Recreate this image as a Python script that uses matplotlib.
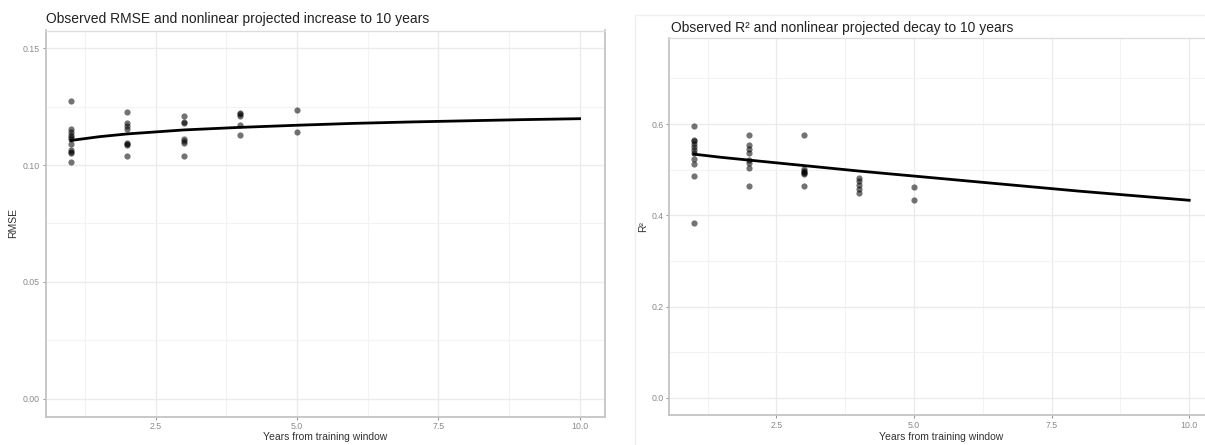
import matplotlib
matplotlib.use("Agg")
import matplotlib.pyplot as plt
from matplotlib.lines import Line2D
from matplotlib.ticker import FixedLocator

plt.rcParams['font.family'] = ['Liberation Sans', 'DejaVu Sans']

# Observed RMSE by years from training window
rmse_x = [1] * 11 + [2] * 8 + [3] * 7 + [4] * 5 + [5] * 2
rmse_y = [0.1275, 0.1152, 0.1140, 0.1130, 0.1120, 0.1110, 0.1090, 0.1066, 0.1055, 0.1050, 0.1012,
          0.1225, 0.1178, 0.1165, 0.1152, 0.1093, 0.1090, 0.1086, 0.1040,
          0.1208, 0.1186, 0.1180, 0.1112, 0.1102, 0.1094, 0.1040,
          0.1224, 0.1216, 0.1210, 0.1172, 0.1128,
          0.1235, 0.1143]

# Observed R² by years from training window
r2_x = [1] * 11 + [2] * 8 + [3] * 7 + [4] * 5 + [5] * 2
r2_y = [0.596, 0.566, 0.562, 0.556, 0.549, 0.543, 0.536, 0.523, 0.512, 0.486, 0.383,
        0.577, 0.554, 0.545, 0.536, 0.521, 0.514, 0.504, 0.465,
        0.576, 0.502, 0.497, 0.494, 0.492, 0.491, 0.465,
        0.482, 0.475, 0.466, 0.458, 0.449,
        0.463, 0.434]

# Nonlinear projections out to 10 years
proj_years = [1, 1.5, 2, 3, 4, 5, 6, 7, 8, 9, 10]
rmse_proj = [0.1105, 0.1121, 0.1133, 0.1150, 0.1161, 0.1170, 0.1178, 0.1184, 0.1189, 0.1194, 0.1198]
r2_proj = [0.534, 0.527, 0.521, 0.509, 0.497, 0.486, 0.475, 0.464, 0.453, 0.443, 0.433]

x_ticks = [2.5, 5.0, 7.5, 10.0]
x_tick_labels = ["2.5", "5.0", "7.5", "10.0"]
rmse_ticks = [0.00, 0.05, 0.10, 0.15]
rmse_tick_labels = ["0.00", "0.05", "0.10", "0.15"]
r2_ticks = [0.0, 0.2, 0.4, 0.6]
r2_tick_labels = ["0.0", "0.2", "0.4", "0.6"]

W, H = 1205, 445
fig = plt.figure(figsize=(W / 100, H / 100), dpi=100)
fig.patch.set_facecolor('white')

# faint frame edges around the right-hand plot
fig.add_artist(Line2D([635 / W, 635 / W, 1.0], [0.0, 1 - 15 / H, 1 - 15 / H],
                      transform=fig.transFigure, color='#efefef', linewidth=1.0))


def px_axes(x0, x1, top, bottom):
    return fig.add_axes([x0 / W, (H - bottom) / H, (x1 - x0) / W, (bottom - top) / H])


def style(ax, yticks, ylabels, yminor, ylim):
    ax.set_xlim(0.55, 10.45)
    ax.set_ylim(*ylim)
    ax.xaxis.set_major_locator(FixedLocator(x_ticks))
    ax.set_xticklabels(x_tick_labels)
    ax.xaxis.set_minor_locator(FixedLocator([1.25, 3.75, 6.25, 8.75]))
    ax.yaxis.set_major_locator(FixedLocator(yticks))
    ax.set_yticklabels(ylabels)
    ax.yaxis.set_minor_locator(FixedLocator(yminor))
    ax.grid(which='major', color='#ebebeb', linewidth=1.0)
    ax.grid(which='minor', color='#f3f3f3', linewidth=0.8)
    ax.set_axisbelow(True)
    ax.tick_params(which='major', length=2.5, width=0.8, color='#999999',
                   labelsize=6.3, labelcolor='#8a8a8a', pad=1.5)
    ax.tick_params(which='minor', length=0)
    for side in ['left', 'bottom', 'right']:
        ax.spines[side].set_color('#c4c4c4')
        ax.spines[side].set_linewidth(1.3)
    ax.spines['top'].set_color('#dedede')
    ax.spines['top'].set_linewidth(1.0)


ax1 = px_axes(45.5, 605, 30.5, 416.5)
style(ax1, rmse_ticks, rmse_tick_labels, [0.025, 0.075, 0.125], (-0.0075, 0.1575))
ax1.scatter(rmse_x, rmse_y, s=20, color='black', alpha=0.55, linewidths=0, zorder=3)
ax1.plot(proj_years, rmse_proj, color='black', linewidth=2.0, zorder=4)

ax2 = px_axes(669, 1214, 38.4, 415.1)
style(ax2, r2_ticks, r2_tick_labels, [0.1, 0.3, 0.5, 0.7], (-0.0375, 0.7875))
ax2.scatter(r2_x, r2_y, s=20, color='black', alpha=0.55, linewidths=0, zorder=3)
ax2.plot(proj_years, r2_proj, color='black', linewidth=2.0, zorder=4)

# titles and axis titles
fig.text(46 / W, 1 - 19 / H, "Observed RMSE and nonlinear projected increase to 10 years",
         fontsize=10, color='#222222', ha='left', va='center')
fig.text(671 / W, 1 - 28 / H, "Observed R² and nonlinear projected decay to 10 years",
         fontsize=10, color='#222222', ha='left', va='center')
fig.text(325 / W, 1 - 437 / H, "Years from training window",
         fontsize=7.5, color='#333333', ha='center', va='center')
fig.text(941 / W, 1 - 437 / H, "Years from training window",
         fontsize=7.5, color='#333333', ha='center', va='center')
fig.text(13 / W, 1 - 223 / H, "RMSE", rotation=90,
         fontsize=7.5, color='#333333', ha='center', va='center')
fig.text(643 / W, 1 - 227 / H, "R²", rotation=90,
         fontsize=7.5, color='#333333', ha='center', va='center')

fig.savefig("out.png", dpi=100, facecolor='white')
